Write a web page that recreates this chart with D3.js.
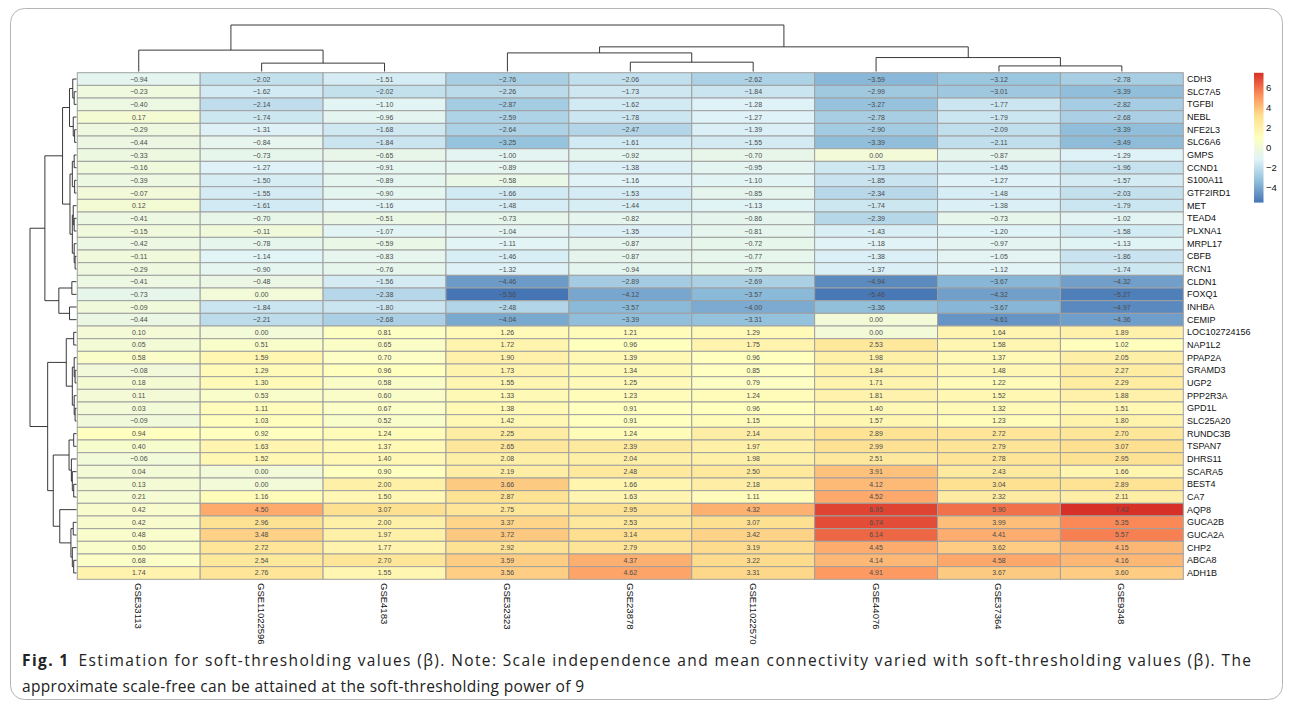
<!DOCTYPE html>
<html><head><meta charset="utf-8">
<script src="https://cdn.jsdelivr.net/npm/d3@7"></script>
<style>body{margin:0;background:#fff;} svg{display:block;}</style>
</head><body><svg id="c" width="1293" height="708"></svg>
<script>
const columns = ["GSE33113","GSE11022596","GSE4183","GSE32323","GSE23878","GSE11022570","GSE44076","GSE37364","GSE9348"];
const genes = ["CDH3","SLC7A5","TGFBI","NEBL","NFE2L3","SLC6A6","GMPS","CCND1","S100A11","GTF2IRD1","MET","TEAD4","PLXNA1","MRPL17","CBFB","RCN1","CLDN1","FOXQ1","INHBA","CEMIP","LOC102724156","NAP1L2","PPAP2A","GRAMD3","UGP2","PPP2R3A","GPD1L","SLC25A20","RUNDC3B","TSPAN7","DHRS11","SCARA5","BEST4","CA7","AQP8","GUCA2B","GUCA2A","CHP2","ABCA8","ADH1B"];
const values = [
[-0.94,-2.02,-1.51,-2.76,-2.06,-2.62,-3.59,-3.12,-2.78],
[-0.23,-1.62,-2.02,-2.26,-1.73,-1.84,-2.99,-3.01,-3.39],
[-0.40,-2.14,-1.10,-2.87,-1.62,-1.28,-3.27,-1.77,-2.82],
[0.17,-1.74,-0.96,-2.59,-1.78,-1.27,-2.78,-1.79,-2.68],
[-0.29,-1.31,-1.68,-2.64,-2.47,-1.39,-2.90,-2.09,-3.39],
[-0.44,-0.84,-1.84,-3.25,-1.61,-1.55,-3.39,-2.11,-3.49],
[-0.33,-0.73,-0.65,-1.00,-0.92,-0.70,0.00,-0.87,-1.29],
[-0.16,-1.27,-0.91,-0.89,-1.38,-0.95,-1.73,-1.45,-1.96],
[-0.39,-1.50,-0.89,-0.58,-1.16,-1.10,-1.85,-1.27,-1.57],
[-0.07,-1.55,-0.90,-1.66,-1.53,-0.85,-2.34,-1.48,-2.03],
[0.12,-1.61,-1.16,-1.48,-1.44,-1.13,-1.74,-1.38,-1.79],
[-0.41,-0.70,-0.51,-0.73,-0.82,-0.86,-2.39,-0.73,-1.02],
[-0.15,-0.11,-1.07,-1.04,-1.35,-0.81,-1.43,-1.20,-1.58],
[-0.42,-0.78,-0.59,-1.11,-0.87,-0.72,-1.18,-0.97,-1.13],
[-0.11,-1.14,-0.83,-1.46,-0.87,-0.77,-1.38,-1.05,-1.86],
[-0.29,-0.90,-0.76,-1.32,-0.94,-0.75,-1.37,-1.12,-1.74],
[-0.41,-0.48,-1.56,-4.46,-2.89,-2.69,-4.94,-3.67,-4.32],
[-0.73,0.00,-2.38,-5.56,-4.12,-3.57,-5.46,-4.32,-5.27],
[-0.09,-1.84,-1.80,-2.48,-3.57,-4.00,-3.36,-3.67,-4.97],
[-0.44,-2.21,-2.68,-4.04,-3.39,-3.31,0.00,-4.61,-4.36],
[0.10,0.00,0.81,1.26,1.21,1.29,0.00,1.64,1.89],
[0.05,0.51,0.65,1.72,0.96,1.75,2.53,1.58,1.02],
[0.58,1.59,0.70,1.90,1.39,0.96,1.98,1.37,2.05],
[-0.08,1.29,0.96,1.73,1.34,0.85,1.84,1.48,2.27],
[0.18,1.30,0.58,1.55,1.25,0.79,1.71,1.22,2.29],
[0.11,0.53,0.60,1.33,1.23,1.24,1.81,1.52,1.88],
[0.03,1.11,0.67,1.38,0.91,0.96,1.40,1.32,1.51],
[-0.09,1.03,0.52,1.42,0.91,1.15,1.57,1.23,1.80],
[0.94,0.92,1.24,2.25,1.24,2.14,2.89,2.72,2.70],
[0.40,1.63,1.37,2.65,2.39,1.97,2.99,2.79,3.07],
[-0.06,1.52,1.40,2.08,2.04,1.98,2.51,2.78,2.95],
[0.04,0.00,0.90,2.19,2.48,2.50,3.91,2.43,1.66],
[0.13,0.00,2.00,3.66,1.66,2.18,4.12,3.04,2.89],
[0.21,1.16,1.50,2.87,1.63,1.11,4.52,2.32,2.11],
[0.42,4.50,3.07,2.75,2.95,4.32,6.95,5.90,7.42],
[0.42,2.96,2.00,3.37,2.53,3.07,6.74,3.99,5.35],
[0.48,3.48,1.97,3.72,3.14,3.42,6.14,4.41,5.57],
[0.50,2.72,1.77,2.92,2.79,3.19,4.45,3.62,4.15],
[0.68,2.54,2.70,3.59,4.37,3.22,4.14,4.58,4.16],
[1.74,2.76,1.55,3.56,4.62,3.31,4.91,3.67,3.60]
];
const legendTicks = [-4,-2,0,2,4,6];
const palette = ["#4575b4","#91bfdb","#e0f3f8","#ffffbf","#fee090","#fc8d59","#d73027"];
// dendrograms: [left, right, height]; leaves are row/column indices
const rowTree = [
  [
    [
      [[0,[1,2,0.5],0.8],[3,[4,5,0.4],0.7],1.5],
      [[[6,7,0.5],[8,9,0.4],0.9],[[10,[11,12,0.5],0.7],[13,[14,15,0.3],0.5],0.9],1.4],
      3.0],
    [[16,17,1.0],[18,19,1.5],3.8],
    6.8],
  [
    [[20,21,0.6],[[22,[23,24,0.3],0.5],[25,[26,27,0.3],0.5],0.9],2.2],
    [[[28,29,0.6],[30,[31,[32,33,0.6],0.9],1.1],1.6],[34,[[35,36,0.7],[37,[38,39,0.6],0.9],1.2],3.6],5.0],
    6.2],
  10];
const colTree = [[0,[1,2,1.8],4.6],[[3,[4,5,2.0],4.0],[6,[7,8,1.2],3.0],5.3],10];
const caption1 = "Estimation for soft-thresholding values (β). Note: Scale independence and mean connectivity varied with soft-thresholding values (β). The";
const caption2 = "approximate scale-free can be attained at the soft-thresholding power of 9";

const svg = d3.select("#c");
const FONT = "'Liberation Sans', Arial, Helvetica, sans-serif";

// frame
svg.append("rect").attr("x",10.5).attr("y",8.5).attr("width",1272).attr("height",691)
  .attr("rx",14).attr("fill","none").attr("stroke","#b5b5b5").attr("stroke-width",1);

const x = d3.scaleBand().domain(d3.range(columns.length)).range([77.3,1183.3]);
const y = d3.scaleBand().domain(d3.range(genes.length)).range([72.7,579.3]);
const flat = values.flat();
const vmin = d3.min(flat), vmax = d3.max(flat);
const stops = palette.map((_, i) => vmin + i*(vmax-vmin)/(palette.length-1));
const color = d3.scaleLinear().domain(stops).range(palette).interpolate(d3.interpolateRgb);
const fmt = d3.format(".2f");

const cells = [];
values.forEach((row, r) => row.forEach((v, c) => cells.push({r, c, v})));

const g = svg.append("g");
g.selectAll("rect.cell").data(cells).join("rect").attr("class","cell")
  .attr("x", d => x(d.c)).attr("y", d => y(d.r))
  .attr("width", x.bandwidth()).attr("height", y.bandwidth())
  .attr("fill", d => color(d.v)).attr("stroke","#a0a0a0").attr("stroke-width",1);
g.selectAll("text.num").data(cells).join("text").attr("class","num")
  .attr("x", d => x(d.c) + x.bandwidth()/2).attr("y", d => y(d.r) + y.bandwidth()/2)
  .attr("text-anchor","middle").attr("dominant-baseline","central")
  .attr("font-family",FONT).attr("font-size",7).attr("fill","#4d4d4d")
  .text(d => fmt(d.v));

// row labels
svg.selectAll("text.rl").data(genes).join("text").attr("class","rl")
  .attr("x",1187).attr("y",(d,i) => y(i) + y.bandwidth()/2)
  .attr("dominant-baseline","central").attr("font-family",FONT).attr("font-size",9).attr("fill","#111")
  .text(d => d);
// column labels
svg.selectAll("text.cl").data(columns).join("text").attr("class","cl")
  .attr("transform",(d,i) => `translate(${x(i)+x.bandwidth()/2},583) rotate(90)`)
  .attr("dominant-baseline","central").attr("font-family",FONT).attr("font-size",9.5).attr("fill","#111")
  .text(d => d);

// dendrograms
function layoutTree(tree, leafPos) {
  const root = d3.hierarchy(tree, d => Array.isArray(d) ? [d[0], d[1]] : null);
  root.eachAfter(n => {
    if (n.children) { n.pos = d3.mean(n.children, c => c.pos); n.h = n.data[2]; }
    else { n.pos = leafPos(n.data); n.h = 0; }
  });
  return root;
}
const rowRoot = layoutTree(rowTree, i => y(i) + y.bandwidth()/2);
const hx = d3.scaleLinear().domain([0,10]).range([76.5,30]);
const dg = svg.append("g").attr("fill","none").attr("stroke","#222").attr("stroke-width",0.9);
rowRoot.each(n => {
  if (!n.children) return;
  const [a, b] = n.children;
  dg.append("path").attr("d",
    `M${hx(a.h)},${a.pos}H${hx(n.h)}V${b.pos}H${hx(b.h)}`);
});
const colRoot = layoutTree(colTree, i => x(i) + x.bandwidth()/2);
const hy = d3.scaleLinear().domain([0,10]).range([71.5,25]);
colRoot.each(n => {
  if (!n.children) return;
  const [a, b] = n.children;
  dg.append("path").attr("d",
    `M${a.pos},${hy(a.h)}V${hy(n.h)}H${b.pos}V${hy(b.h)}`);
});

// legend
const ly = d3.scaleLinear().domain([vmin, vmax]).range([202.6, 72.8]);
const grad = svg.append("defs").append("linearGradient").attr("id","lg")
  .attr("x1",0).attr("y1",1).attr("x2",0).attr("y2",0);
stops.forEach((s, i) => grad.append("stop").attr("offset", (s - vmin)/(vmax - vmin)).attr("stop-color", palette[i]));
svg.append("rect").attr("x",1254).attr("y",ly(vmax)).attr("width",9.5).attr("height",ly(vmin)-ly(vmax)).attr("fill","url(#lg)");
svg.selectAll("text.lt").data(legendTicks).join("text").attr("class","lt")
  .attr("x",1266).attr("y",d => ly(d)).attr("dominant-baseline","central")
  .attr("font-family",FONT).attr("font-size",9.5).attr("fill","#111")
  .text(d => d3.format("")(d));

// caption
const cap = svg.append("text").attr("x",22).attr("y",666).attr("font-family","'Open Sans','Noto Sans',sans-serif")
  .attr("font-size",15.5).attr("fill","#222").attr("textLength",1229).attr("lengthAdjust","spacing");
cap.append("tspan").attr("font-weight","bold").text("Fig. 1");
cap.append("tspan").attr("dx",9).text(caption1);
svg.append("text").attr("x",22).attr("y",692).attr("font-family","'Open Sans','Noto Sans',sans-serif")
  .attr("font-size",15.5).attr("fill","#222").attr("textLength",562).attr("lengthAdjust","spacing").text(caption2);
</script></body></html>
